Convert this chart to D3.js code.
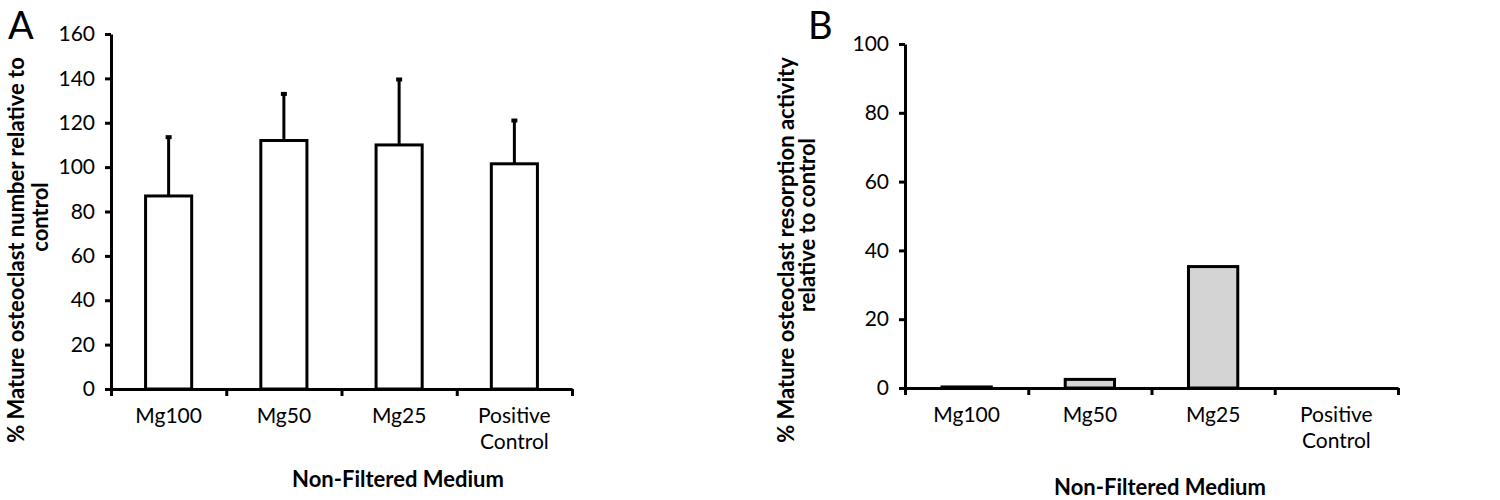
<!DOCTYPE html>
<html>
<head>
<meta charset="utf-8">
<script src="https://cdn.jsdelivr.net/npm/d3@7"></script>
<style>
  body { margin: 0; background: #fff; }
  text { font-family: Lato, "Open Sans", sans-serif; fill: #000; }
  .axis path, .axis line { stroke: #000; stroke-width: 3; }
  .axis text { font-size: 21px; }
  .title { font-weight: bold; font-size: 22px; }
  .panel { font-size: 38px; }
</style>
</head>
<body>
<div id="chart"></div>
<script>
// categories shared by both panels
const categories = ["Mg100", "Mg50", "Mg25", "Positive Control"];

// panel A: mature osteoclast number (% of control) with upper error bar
const numberMeans = [87, 112, 110, 101.5];
const numberUpper = [113.5, 133, 139.5, 121];
const numberTicks = [0, 20, 40, 60, 80, 100, 120, 140, 160];

// panel B: resorption activity (% of control)
const resorptionMeans = [0.3, 2.5, 35.3, 0];
const resorptionTicks = [0, 20, 40, 60, 80, 100];

const svg = d3.select("#chart").append("svg")
  .attr("width", 1500)
  .attr("height", 500);

function drawPanel(opts) {
  let g = svg.append("g");

  let yScale = d3.scaleLinear()
    .domain([0, opts.yMax])
    .range([opts.bottom, opts.top]);

  let xBand = d3.scaleBand()
    .domain(categories)
    .range([opts.left, opts.right])
    .paddingInner(0.6)
    .paddingOuter(0.3);

  // category boundaries for the tick marks, like Excel
  let xEdge = d3.scaleLinear()
    .domain([0, categories.length])
    .range([opts.left, opts.right]);

  let yAxis = d3.axisLeft(yScale)
    .tickValues(opts.ticks)
    .tickSize(6)
    .tickSizeOuter(0)
    .tickPadding(10)
    .tickFormat(d3.format("d"));

  g.append("g")
    .attr("class", "axis")
    .attr("transform", "translate(" + opts.left + ",0)")
    .call(yAxis);

  let xAxis = d3.axisBottom(xEdge)
    .tickValues(d3.range(0, categories.length + 1))
    .tickSize(7)
    .tickSizeOuter(0)
    .tickFormat("");

  g.append("g")
    .attr("class", "axis")
    .attr("transform", "translate(0," + opts.bottom + ")")
    .call(xAxis);

  // bars
  g.selectAll("rect.bar")
    .data(opts.values.map((v, i) => ({cat: categories[i], v: v})).filter(d => d.v > 0))
    .enter()
    .append("rect")
    .attr("class", "bar")
    .attr("x", d => xBand(d.cat))
    .attr("y", d => yScale(d.v))
    .attr("width", xBand.bandwidth())
    .attr("height", d => yScale(0) - yScale(d.v))
    .attr("fill", opts.fill)
    .attr("stroke", "#000")
    .attr("stroke-width", 3);

  // error bars (upper only)
  if (opts.upper) {
    let eb = g.selectAll("g.err")
      .data(opts.upper.map((u, i) => ({cat: categories[i], v: opts.values[i], u: u})))
      .enter()
      .append("g")
      .attr("class", "err");

    eb.append("line")
      .attr("x1", d => xBand(d.cat) + xBand.bandwidth() / 2)
      .attr("x2", d => xBand(d.cat) + xBand.bandwidth() / 2)
      .attr("y1", d => yScale(d.v))
      .attr("y2", d => yScale(d.u))
      .attr("stroke", "#000")
      .attr("stroke-width", 3);

    eb.append("line")
      .attr("x1", d => xBand(d.cat) + xBand.bandwidth() / 2 - 3)
      .attr("x2", d => xBand(d.cat) + xBand.bandwidth() / 2 + 3)
      .attr("y1", d => yScale(d.u))
      .attr("y2", d => yScale(d.u))
      .attr("stroke", "#000")
      .attr("stroke-width", 4);
  }

  // category labels, split onto two lines
  categories.forEach(function(c) {
    let words = c.split(" ");
    let t = g.append("text")
      .attr("text-anchor", "middle")
      .style("font-size", "21px")
      .attr("x", xBand(c) + xBand.bandwidth() / 2)
      .attr("y", opts.bottom + 34);
    words.forEach(function(w, k) {
      t.append("tspan")
        .attr("x", xBand(c) + xBand.bandwidth() / 2)
        .attr("dy", k == 0 ? 0 : 26)
        .text(w);
    });
  });

  g.append("text")
    .attr("class", "title")
    .attr("text-anchor", "middle")
    .attr("x", opts.xTitleX)
    .attr("y", opts.xTitleY)
    .text("Non-Filtered Medium");

  opts.yTitle.forEach(function(line) {
    g.append("text")
      .attr("class", "title")
      .attr("text-anchor", "middle")
      .attr("transform", "translate(" + line.x + "," + line.y + ") rotate(-90)")
      .text(line.text);
  });

  g.append("text")
    .attr("class", "panel")
    .attr("x", opts.letterX)
    .attr("y", 39)
    .text(opts.letter);
}

drawPanel({
  letter: "A", letterX: 8,
  left: 111, right: 572, top: 34, bottom: 389,
  yMax: 160, ticks: numberTicks,
  values: numberMeans, upper: numberUpper,
  fill: "#ffffff",
  xTitleX: 398, xTitleY: 487,
  yTitle: [
    {text: "% Mature osteoclast number relative to", x: 24, y: 250},
    {text: "control", x: 48, y: 217}
  ]
});

drawPanel({
  letter: "B", letterX: 808,
  left: 905, right: 1398, top: 44, bottom: 388,
  yMax: 100, ticks: resorptionTicks,
  values: resorptionMeans, upper: null,
  fill: "#d4d4d4",
  xTitleX: 1160, xTitleY: 495,
  yTitle: [
    {text: "% Mature osteoclast resorption activity", x: 794, y: 250},
    {text: "relative to control", x: 815, y: 225}
  ]
});
</script>
</body>
</html>
